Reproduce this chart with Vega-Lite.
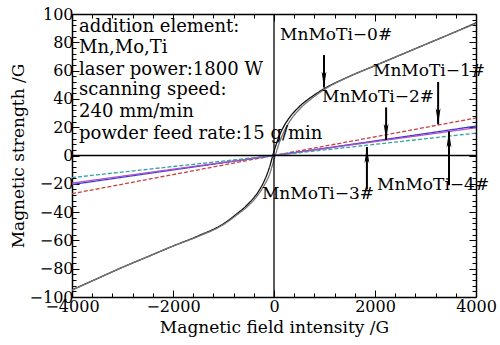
{
  "$schema": "https://vega.github.io/schema/vega-lite/v6.json",
  "width": 404,
  "height": 283,
  "autosize": "none",
  "padding": {"left": 72, "top": 14, "right": 24, "bottom": 48},
  "background": "white",
  "config": {
    "view": {"stroke": null},
    "font": "DejaVu Serif",
    "axis": {
      "domainColor": "black", "domainWidth": 1.5, "tickColor": "black", "tickWidth": 1,
      "labelColor": "black", "labelFont": "DejaVu Serif", "labelFontSize": 16,
      "titleColor": "black", "titleFont": "DejaVu Serif", "titleFontSize": 17, "titleFontWeight": "normal",
      "grid": false, "labelOverlap": false, "labelBound": false, "labelFlush": false
    }
  },
  "datasets": {
    "curves": [
      {"x": -4000, "y": -95, "s": "0a"}, {"x": -3500, "y": -87, "s": "0a"}, {"x": -3000, "y": -79, "s": "0a"}, {"x": -2500, "y": -71.5, "s": "0a"}, {"x": -2000, "y": -64, "s": "0a"}, {"x": -1500, "y": -56.8, "s": "0a"}, {"x": -1000, "y": -48.2, "s": "0a"}, {"x": -750, "y": -41.6, "s": "0a"}, {"x": -500, "y": -33.8, "s": "0a"}, {"x": -300, "y": -25, "s": "0a"}, {"x": -200, "y": -18.5, "s": "0a"}, {"x": -100, "y": -9.5, "s": "0a"}, {"x": 0, "y": 3, "s": "0a"}, {"x": 100, "y": 13.5, "s": "0a"}, {"x": 200, "y": 21, "s": "0a"}, {"x": 300, "y": 26.5, "s": "0a"}, {"x": 500, "y": 34.5, "s": "0a"}, {"x": 750, "y": 41.6, "s": "0a"}, {"x": 1000, "y": 47.3, "s": "0a"}, {"x": 1500, "y": 56, "s": "0a"}, {"x": 2000, "y": 63.5, "s": "0a"}, {"x": 2500, "y": 71, "s": "0a"}, {"x": 3000, "y": 78.5, "s": "0a"}, {"x": 3500, "y": 86, "s": "0a"}, {"x": 4000, "y": 93.7, "s": "0a"},
      {"x": -4000, "y": -95.2, "s": "0b"}, {"x": -3500, "y": -87, "s": "0b"}, {"x": -3000, "y": -79, "s": "0b"}, {"x": -2500, "y": -71.5, "s": "0b"}, {"x": -2000, "y": -64, "s": "0b"}, {"x": -1500, "y": -57.2, "s": "0b"}, {"x": -1000, "y": -48.8, "s": "0b"}, {"x": -750, "y": -42.4, "s": "0b"}, {"x": -500, "y": -35.2, "s": "0b"}, {"x": -300, "y": -27, "s": "0b"}, {"x": -200, "y": -21.5, "s": "0b"}, {"x": -100, "y": -14.5, "s": "0b"}, {"x": 0, "y": -3, "s": "0b"}, {"x": 100, "y": 8.5, "s": "0b"}, {"x": 200, "y": 17, "s": "0b"}, {"x": 300, "y": 23.5, "s": "0b"}, {"x": 500, "y": 32.5, "s": "0b"}, {"x": 750, "y": 40.4, "s": "0b"}, {"x": 1000, "y": 46.7, "s": "0b"}, {"x": 1500, "y": 56, "s": "0b"}, {"x": 2000, "y": 63.5, "s": "0b"}, {"x": 2500, "y": 71, "s": "0b"}, {"x": 3000, "y": 78.5, "s": "0b"}, {"x": 3500, "y": 86, "s": "0b"}, {"x": 4000, "y": 93.3, "s": "0b"},
      {"x": -4000, "y": -27, "s": "1"}, {"x": -2000, "y": -13.5, "s": "1"}, {"x": 0, "y": 0, "s": "1"}, {"x": 2000, "y": 13.2, "s": "1"}, {"x": 4000, "y": 26.5, "s": "1"},
      {"x": -4000, "y": -20.5, "s": "2"}, {"x": -2000, "y": -10.2, "s": "2"}, {"x": 0, "y": 0, "s": "2"}, {"x": 2000, "y": 10.3, "s": "2"}, {"x": 4000, "y": 20.8, "s": "2"},
      {"x": -4000, "y": -19.5, "s": "4"}, {"x": -2000, "y": -9.7, "s": "4"}, {"x": 0, "y": 0, "s": "4"}, {"x": 2000, "y": 9.8, "s": "4"}, {"x": 4000, "y": 19.6, "s": "4"},
      {"x": -4000, "y": -15.6, "s": "3"}, {"x": -2000, "y": -7.8, "s": "3"}, {"x": 0, "y": 0, "s": "3"}, {"x": 2000, "y": 7.9, "s": "3"}, {"x": 4000, "y": 15.8, "s": "3"}
    ],
    "notes": [
      {"x": -3860, "y": 90.5, "t": "addition element:"},
      {"x": -3860, "y": 76, "t": "Mn,Mo,Ti"},
      {"x": -3860, "y": 60.5, "t": "laser power:1800 W"},
      {"x": -3860, "y": 46, "t": "scanning speed:"},
      {"x": -3860, "y": 30.5, "t": "240 mm/min"},
      {"x": -3860, "y": 15.5, "t": "powder feed rate:15 g/min"}
    ],
    "labels": [
      {"x": 1230, "y": 85, "t": "MnMoTi−0#"},
      {"x": 3070, "y": 60, "t": "MnMoTi−1#"},
      {"x": 2060, "y": 41, "t": "MnMoTi−2#"},
      {"x": 870, "y": -27, "t": "MnMoTi−3#"},
      {"x": 3150, "y": -21, "t": "MnMoTi−4#"}
    ],
    "arrows": [
      {"x": 990, "y": 71, "y2": 48, "d": "down"},
      {"x": 3250, "y": 52, "y2": 22, "d": "down"},
      {"x": 2220, "y": 34, "y2": 11, "d": "down"},
      {"x": 1840, "y": -24, "y2": 6, "d": "up"},
      {"x": 3465, "y": -21, "y2": 17, "d": "up"}
    ]
  },
  "resolve": {"axis": {"x": "independent", "y": "independent"}},
  "layer": [
    {
      "data": {"name": "curves"},
      "mark": {"type": "line", "strokeWidth": 1.3, "clip": true, "interpolate": "monotone"},
      "encoding": {
        "x": {"field": "x", "type": "quantitative", "scale": {"domain": [-4000, 4000], "nice": false, "zero": false},
          "title": "Magnetic field intensity /G",
          "axis": {"orient": "bottom", "format": "d", "values": [-4000,-3600,-3200,-2800,-2400,-2000,-1600,-1200,-800,-400,0,400,800,1200,1600,2000,2400,2800,3200,3600,4000],
            "labelExpr": "datum.value % 2000 === 0 ? datum.label : ''",
            "tickSize": {"condition": {"test": "datum.value % 2000 === 0", "value": -7}, "value": -4},
            "labelPadding": 8, "titlePadding": 2}},
        "y": {"field": "y", "type": "quantitative", "scale": {"domain": [-100, 100], "nice": false, "zero": false},
          "title": "Magnetic strength /G",
          "axis": {"orient": "left", "format": "d", "values": [-100,-96,-92,-88,-84,-80,-76,-72,-68,-64,-60,-56,-52,-48,-44,-40,-36,-32,-28,-24,-20,-16,-12,-8,-4,0,4,8,12,16,20,24,28,32,36,40,44,48,52,56,60,64,68,72,76,80,84,88,92,96,100],
            "labelExpr": "datum.value % 20 === 0 ? datum.label : ''",
            "tickSize": {"condition": {"test": "datum.value % 20 === 0", "value": -7}, "value": -4},
            "labelPadding": 6, "titlePadding": 2}},
        "color": {"field": "s", "type": "nominal", "legend": null,
          "scale": {"domain": ["0a", "0b", "1", "2", "4", "3"], "range": ["#111111", "#777777", "#c8403c", "#3a3ad0", "#b050c8", "#35a0a0"]}},
        "strokeDash": {"field": "s", "type": "nominal", "legend": null,
          "scale": {"domain": ["0a", "0b", "1", "2", "4", "3"], "range": [[1, 0], [1, 0], [4, 2], [1, 0], [1, 0], [4, 2]]}}
      }
    },
    {
      "data": {"values": [{"x": 0}]},
      "mark": {"type": "rule", "color": "black", "strokeWidth": 1.3},
      "encoding": {
        "x": {"field": "x", "type": "quantitative", "title": null,
          "axis": {"orient": "top", "values": [-4000,-3600,-3200,-2800,-2400,-2000,-1600,-1200,-800,-400,0,400,800,1200,1600,2000,2400,2800,3200,3600,4000],
            "labels": false,
            "tickSize": {"condition": {"test": "datum.value % 2000 === 0", "value": -7}, "value": -4}}}
      }
    },
    {
      "data": {"values": [{"y": 0}]},
      "mark": {"type": "rule", "color": "black", "strokeWidth": 1.3},
      "encoding": {
        "y": {"field": "y", "type": "quantitative", "title": null,
          "axis": {"orient": "right", "values": [-100,-96,-92,-88,-84,-80,-76,-72,-68,-64,-60,-56,-52,-48,-44,-40,-36,-32,-28,-24,-20,-16,-12,-8,-4,0,4,8,12,16,20,24,28,32,36,40,44,48,52,56,60,64,68,72,76,80,84,88,92,96,100],
            "labels": false,
            "tickSize": {"condition": {"test": "datum.value % 20 === 0", "value": -7}, "value": -4}}}
      }
    },
    {
      "data": {"name": "arrows"},
      "mark": {"type": "rule", "color": "black", "strokeWidth": 2},
      "encoding": {
        "x": {"field": "x", "type": "quantitative", "axis": null},
        "y": {"field": "y", "type": "quantitative", "axis": null},
        "y2": {"field": "y2"}
      }
    },
    {
      "data": {"name": "arrows"},
      "mark": {"type": "point", "filled": true, "color": "black", "opacity": 1, "size": 260},
      "encoding": {
        "x": {"field": "x", "type": "quantitative", "axis": null},
        "y": {"field": "y2", "type": "quantitative", "axis": null},
        "shape": {"field": "d", "type": "nominal", "legend": null,
          "scale": {"domain": ["down", "up"], "range": ["M0,0L-0.3,-2L0,-1.5L0.3,-2Z", "M0,0L-0.3,2L0,1.5L0.3,2Z"]}}
      }
    },
    {
      "data": {"name": "notes"},
      "mark": {"type": "text", "align": "left", "baseline": "middle", "font": "DejaVu Serif", "fontSize": 18, "color": "black"},
      "encoding": {
        "x": {"field": "x", "type": "quantitative", "axis": null},
        "y": {"field": "y", "type": "quantitative", "axis": null},
        "text": {"field": "t"}
      }
    },
    {
      "data": {"name": "labels"},
      "mark": {"type": "text", "align": "center", "baseline": "middle", "font": "DejaVu Serif", "fontSize": 17, "color": "black"},
      "encoding": {
        "x": {"field": "x", "type": "quantitative", "axis": null},
        "y": {"field": "y", "type": "quantitative", "axis": null},
        "text": {"field": "t"}
      }
    }
  ]
}
